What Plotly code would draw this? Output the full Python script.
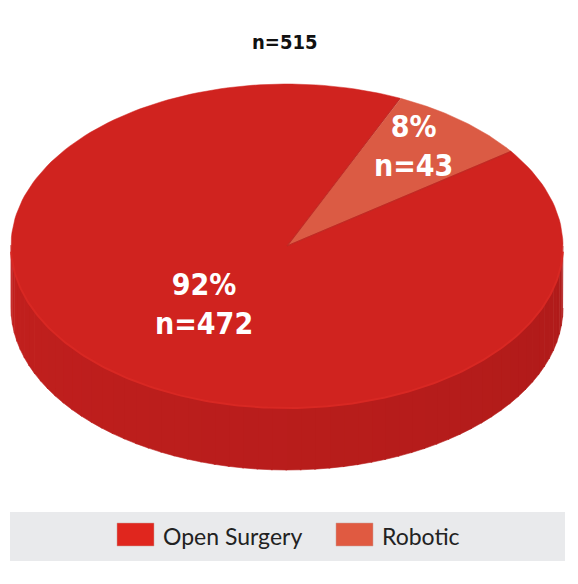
import numpy as np
import plotly.graph_objects as go

# ---- data ----
categories = ["Open Surgery", "Robotic"]
counts = [472, 43]
percent_labels = ["92%", "8%"]
total_label = "n=515"

# ---- styling / geometry (pixel space) ----
top_colors = {"Open Surgery": "#D0231F", "Robotic": "#DB5B44"}
legend_colors = {"Open Surgery": "#E0261E", "Robotic": "#E05A41"}
W, H = 578, 584
cx, cy, rx, ry, depth = 287.0, 246.0, 276.0, 162.0, 62.0
start_deg = 24.2  # clockwise from top where "Robotic" begins

total = sum(counts)

def pt(theta_deg, dy=0.0):
    t = np.radians(theta_deg)
    return cx + rx * np.sin(t), cy - ry * np.cos(t) + dy

fig = go.Figure()

# side (front visible half, 90..270 deg), shaded strips
n_strips = 60
side_start, side_end = 90.0, 270.0
c_right = np.array([0xB0, 0x1B, 0x1A])
c_left = np.array([0xC2, 0x20, 0x1E])
for i in range(n_strips):
    a0 = side_start + (side_end - side_start) * i / n_strips
    a1 = side_start + (side_end - side_start) * (i + 1) / n_strips + 0.3
    ang = np.linspace(a0, a1, 6)
    xs_top, ys_top = pt(ang)
    xs_bot, ys_bot = pt(ang[::-1], depth)
    f = i / (n_strips - 1)
    c = (c_right * (1 - f) + c_left * f).astype(int)
    col = "rgb(%d,%d,%d)" % tuple(c)
    fig.add_trace(go.Scatter(
        x=np.concatenate([xs_top, xs_bot]), y=np.concatenate([ys_top, ys_bot]),
        mode="lines", fill="toself", fillcolor=col, line=dict(width=0.6, color=col),
        hoverinfo="skip", showlegend=False))

# top face slices
order = ["Robotic", "Open Surgery"]
ang0 = start_deg
slice_bounds = {}
for name in order:
    v = counts[categories.index(name)]
    span = 360.0 * v / total
    ang = np.linspace(ang0, ang0 + span, 200)
    xs, ys = pt(ang)
    slice_bounds[name] = (ang0, ang0 + span)
    fig.add_trace(go.Scatter(
        x=np.concatenate([[cx], xs, [cx]]), y=np.concatenate([[cy], ys, [cy]]),
        mode="lines", fill="toself", fillcolor=top_colors[name],
        line=dict(width=0.5, color=top_colors[name]),
        hoverinfo="skip", showlegend=False))
    ang0 += span

# rim highlight along the front edge of the top face
ang = np.linspace(92, 268, 200)
xs, ys = pt(ang)
fig.add_trace(go.Scatter(x=xs, y=ys, mode="lines",
                         line=dict(width=2, color="#D82823"),
                         hoverinfo="skip", showlegend=False))

# slice boundary shading
for a in slice_bounds["Robotic"]:
    xe, ye = pt(a)
    fig.add_trace(go.Scatter(x=[cx, xe], y=[cy, ye], mode="lines",
                             line=dict(width=1.2, color="#BF2A24"),
                             hoverinfo="skip", showlegend=False))

# labels
label_pos = {"Open Surgery": (204, 304), "Robotic": (413, 146)}
for name, pl in zip(categories, percent_labels):
    v = counts[categories.index(name)]
    x, y = label_pos[name]
    fig.add_annotation(x=x, y=y, text="<b>%s<br>n=%d</b>" % (pl, v),
                       showarrow=False, xanchor="center", yanchor="middle",
                       font=dict(family="DejaVu Sans Condensed, Roboto", size=30, color="white"),
                       align="center")

fig.add_annotation(x=284, y=42, text="<b>%s</b>" % total_label, showarrow=False,
                   font=dict(family="DejaVu Sans Condensed, Roboto", size=20, color="#111111"),
                   xanchor="center", yanchor="middle")

# legend (manual)
fig.add_shape(type="rect", x0=10, x1=565, y0=512, y1=561,
              fillcolor="#E9EAEC", line=dict(width=0), layer="below")
leg_x = {"Open Surgery": 117, "Robotic": 336}
for name in categories:
    x0 = leg_x[name]
    fig.add_shape(type="rect", x0=x0, x1=x0 + 37, y0=523, y1=546,
                  fillcolor=legend_colors[name], line=dict(width=0.5, color="#C8A09A"))
    fig.add_annotation(x=x0 + 44, y=536, text=name, showarrow=False,
                       xanchor="left", yanchor="middle",
                       font=dict(family="Lato", size=23, color="#222222"))

fig.update_xaxes(range=[0, W], visible=False, fixedrange=True)
fig.update_yaxes(range=[H, 0], visible=False, fixedrange=True)
fig.update_layout(width=W, height=H, margin=dict(l=0, r=0, t=0, b=0),
                  plot_bgcolor="white", paper_bgcolor="white", showlegend=False)

fig.write_html("out.html", config={"displayModeBar": False},
               post_script="document.body.style.margin='0';document.body.style.overflow='hidden';")
